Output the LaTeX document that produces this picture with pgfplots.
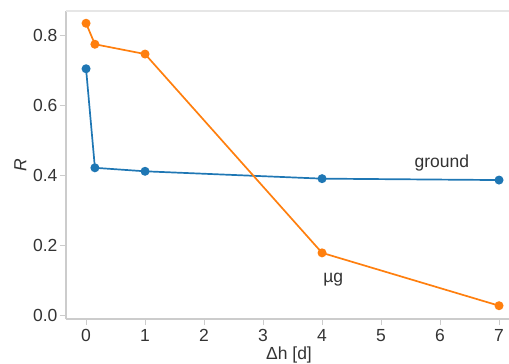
\documentclass[border=0pt]{standalone}
\usepackage{pgfplots}
\pgfplotsset{compat=1.18}
\usepackage{fontspec}
\setmainfont{Liberation Sans}
\definecolor{tblue}{HTML}{1F77B4}
\definecolor{torange}{HTML}{FF7F0E}
\definecolor{spine}{HTML}{CCCCCC}
\definecolor{topspine}{HTML}{E6E6E6}
\definecolor{txt}{HTML}{333333}
\begin{document}
\begin{tikzpicture}
\useasboundingbox (-66pt,-45pt) rectangle (443pt,319pt);
\begin{axis}[
  at={(0,0)}, anchor=south west,
  scale only axis,
  width=446pt, height=308pt,
  xmin=-0.34, xmax=7.22,
  ymin=-0.009, ymax=0.871,
  axis lines*=left,
  xtick={0,1,2,3,4,5,6,7},
  ytick={0,0.2,0.4,0.6,0.8},
  yticklabel style={/pgf/number format/fixed,/pgf/number format/fixed zerofill,/pgf/number format/precision=1},
  /pgf/number format/assume math mode=true,
  tick label style={font=\fontsize{17.5}{20}\selectfont, text=txt},
  xticklabel style={yshift=-1pt},
  yticklabel style={xshift=1pt},
  tick align=outside,
  tick style={draw=spine, line width=1pt},
  major tick length=6pt,
  axis line style={draw=spine, line width=1.3pt, -},
  xlabel={Δh [d]}, ylabel={\itshape R},
  label style={font=\fontsize{17.5}{20}\selectfont, text=txt},
  xlabel style={yshift=2pt},
  ylabel style={yshift=0pt},
  clip=false,
]
\draw[topspine, line width=1.3pt] (rel axis cs:0,1) -- (rel axis cs:1,1);
\addplot[color=tblue, line width=1.7pt, mark=*, mark size=3.6pt] coordinates {
 (0,0.706) (0.15,0.423) (1,0.413) (4,0.392) (7,0.388)};
\addplot[color=torange, line width=1.7pt, mark=*, mark size=3.6pt] coordinates {
 (0,0.836) (0.15,0.776) (1,0.748) (4,0.18) (7,0.029)};
\node[font=\fontsize{17.5}{20}\selectfont, text=txt] at (axis cs:6.03,0.437) {ground};
\node[font=\fontsize{17.5}{20}\selectfont, text=txt] at (axis cs:4.19,0.103) {µg};
\end{axis}
\end{tikzpicture}
\end{document}
